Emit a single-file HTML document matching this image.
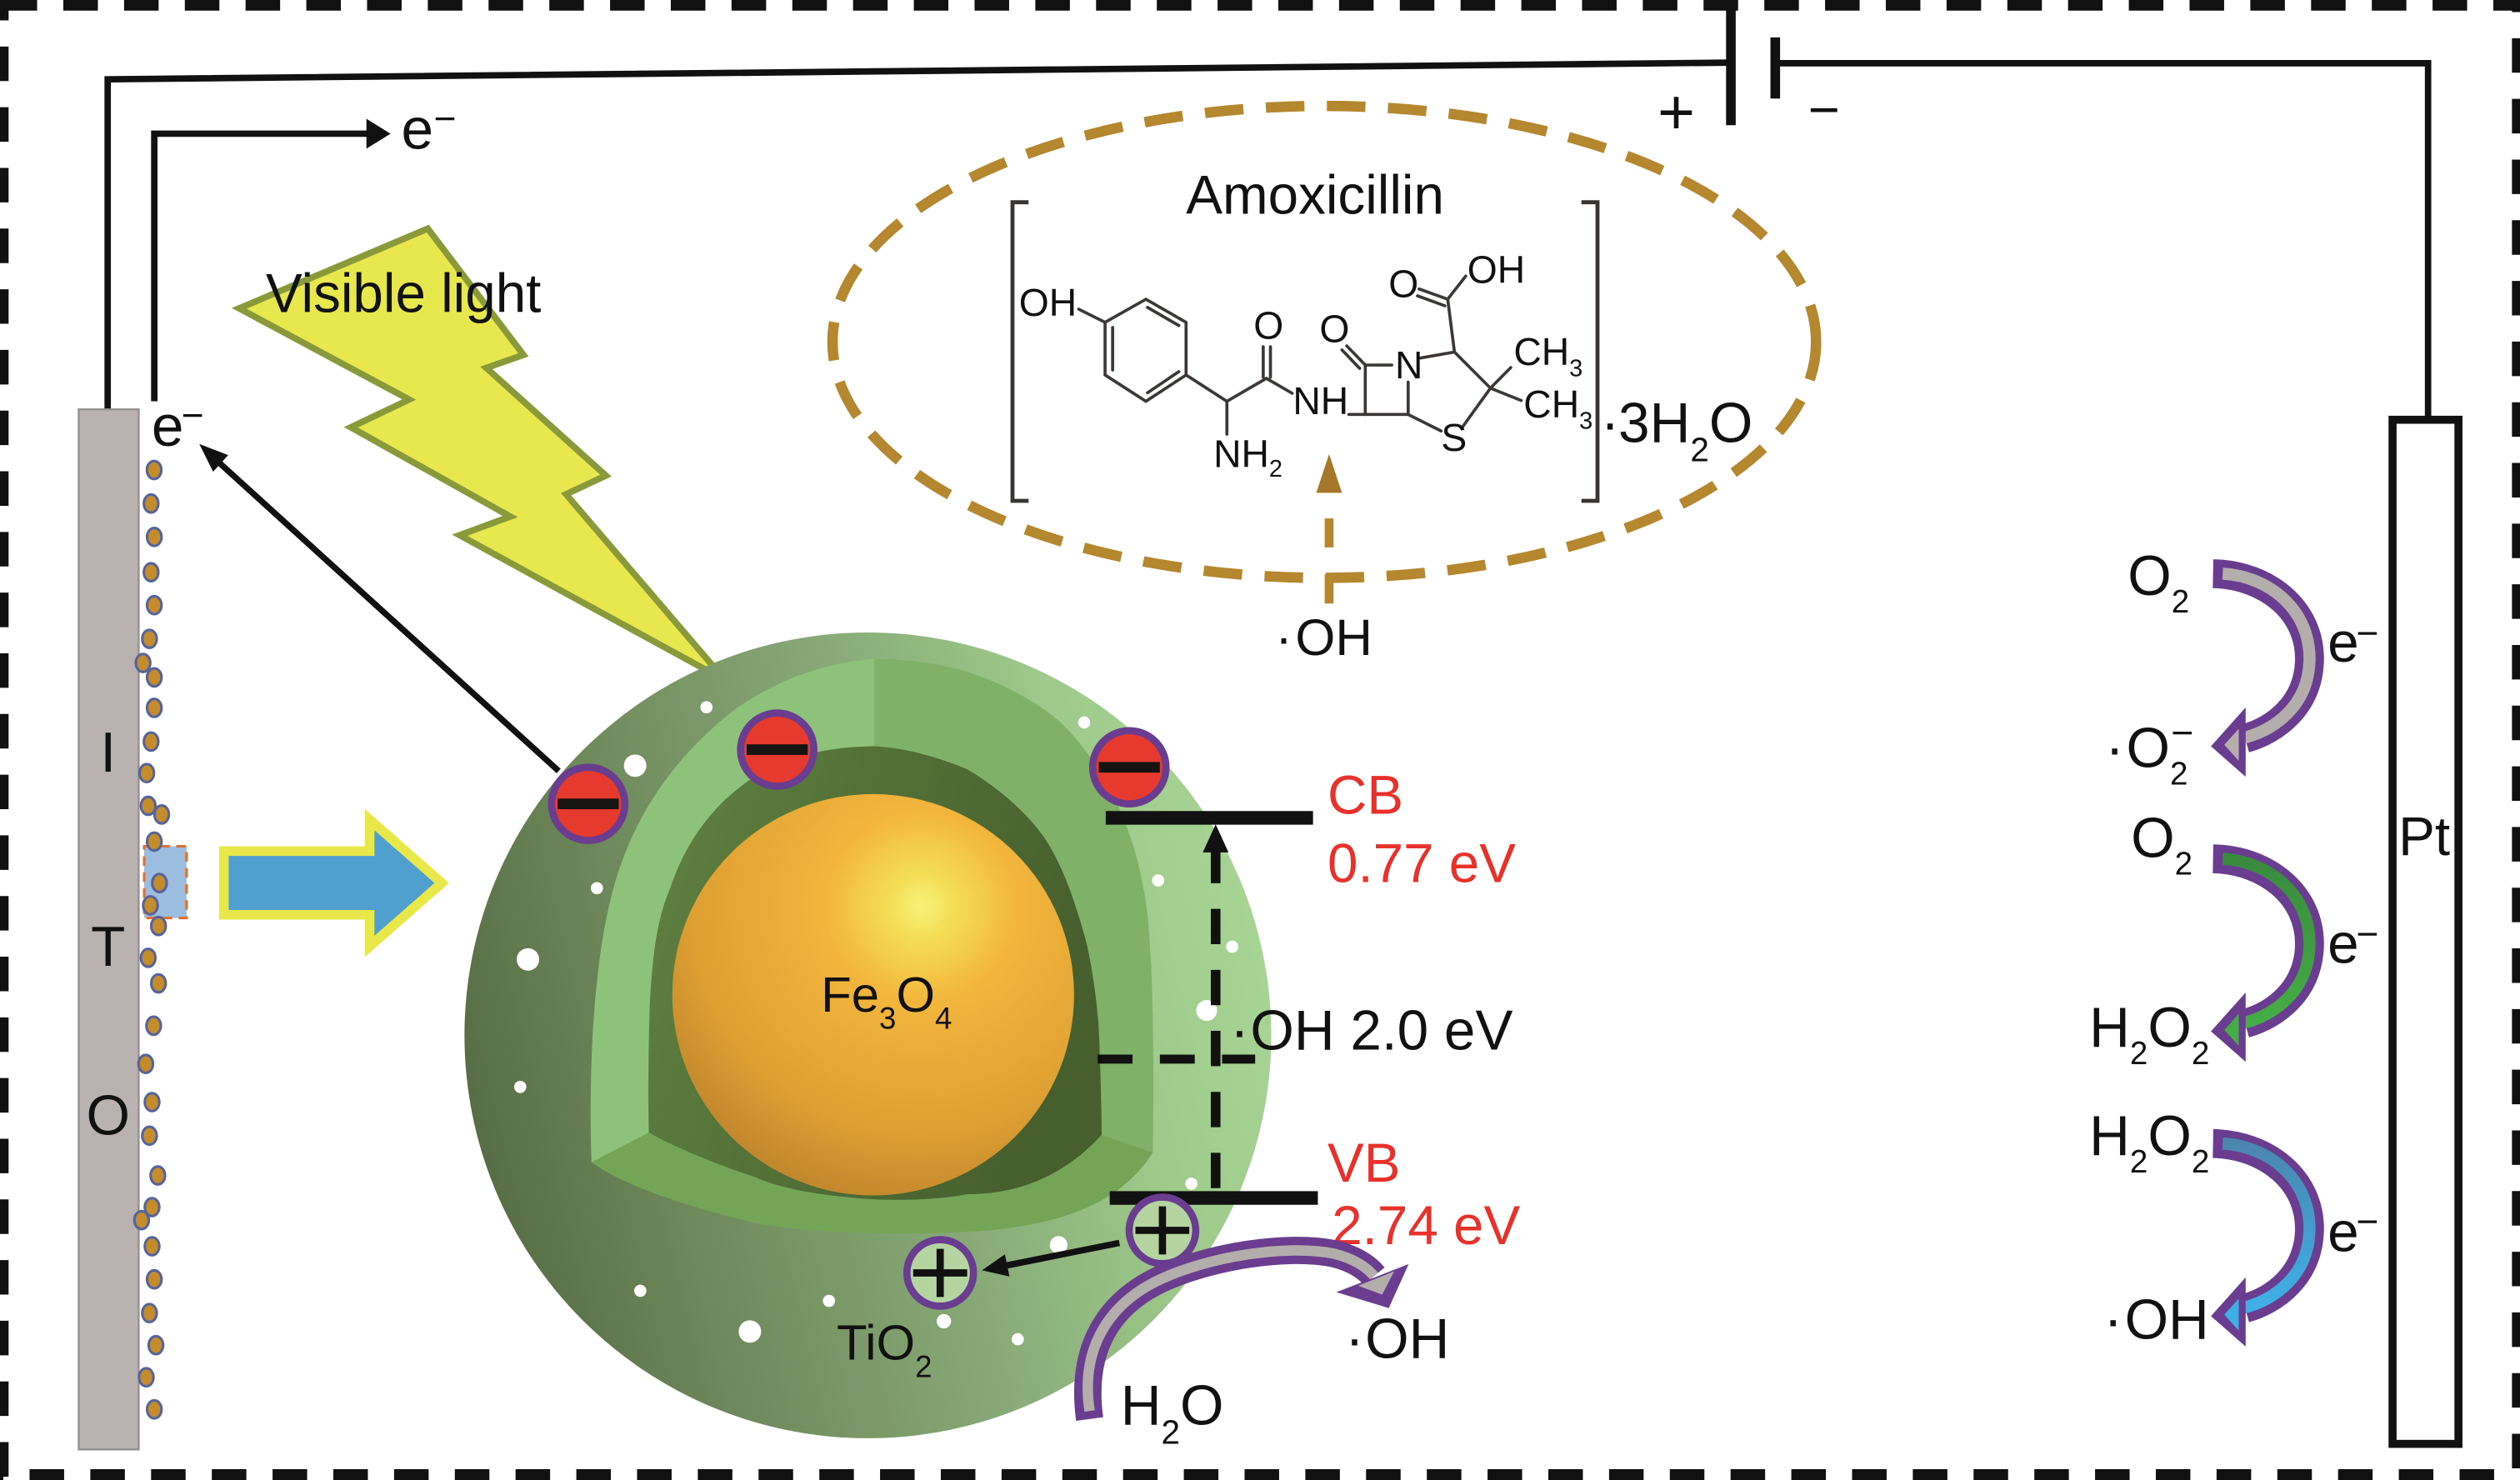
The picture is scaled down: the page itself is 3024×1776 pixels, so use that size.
<!DOCTYPE html>
<html><head><meta charset="utf-8"><style>
html,body{margin:0;padding:0;background:#fff;}
svg{display:block;}
text{font-family:"Liberation Sans",Arial,sans-serif;fill:#111;}
</style></head><body>
<svg width="3024" height="1776" viewBox="0 0 1568 922" preserveAspectRatio="none" xmlns="http://www.w3.org/2000/svg">
<defs>
<linearGradient id="shell" gradientUnits="userSpaceOnUse" x1="290" y1="700" x2="790" y2="580">
<stop offset="0" stop-color="#566c45"/><stop offset="0.25" stop-color="#6f8a5c"/><stop offset="0.55" stop-color="#87a977"/><stop offset="0.8" stop-color="#9dc98a"/><stop offset="1" stop-color="#a8d596"/>
</linearGradient>
<radialGradient id="core" cx="0.62" cy="0.28" r="0.8">
<stop offset="0" stop-color="#f6f27a"/><stop offset="0.1" stop-color="#f4de56"/><stop offset="0.3" stop-color="#f2b53c"/><stop offset="0.7" stop-color="#dfa033"/><stop offset="1" stop-color="#b9802a"/>
</radialGradient>
<linearGradient id="dark" x1="0" y1="0" x2="1" y2="0.3">
<stop offset="0" stop-color="#5f8241"/><stop offset="1" stop-color="#475f2d"/>
</linearGradient>
<linearGradient id="grn" x1="0" y1="0" x2="0" y2="1"><stop offset="0" stop-color="#3a8a3e"/><stop offset="1" stop-color="#45ad45"/></linearGradient>
<linearGradient id="blu" x1="0" y1="0" x2="0" y2="1"><stop offset="0" stop-color="#4a86b0"/><stop offset="1" stop-color="#3fb0e6"/></linearGradient>
</defs>

<!-- dashed border -->
<g stroke="#111" fill="none">
<line x1="1.6" y1="3.3" x2="1568" y2="3.3" stroke-width="6.6" stroke-dasharray="21.5 16.3"/>
<line x1="2.6" y1="-8.8" x2="2.6" y2="922" stroke-width="5.5" stroke-dasharray="21.5 16.3"/>
<line x1="1565.5" y1="-14" x2="1565.5" y2="922" stroke-width="5" stroke-dasharray="21.5 16.3"/>
<line x1="-19.4" y1="919" x2="1568" y2="919" stroke-width="7.5" stroke-dasharray="21.5 16.3"/>
</g>

<!-- wires & battery -->
<g stroke="#111" fill="none" stroke-width="4">
<path d="M67,256 L67,49.4 L1077,39"/>
<path d="M1107,39.4 L1510.8,39.4 L1510.8,260"/>
<path d="M96,250 L96,83.3 L231,83.3"/>
</g>
<polygon points="228,74 243,83.3 228,92.6" fill="#111"/>
<line x1="1077" y1="5" x2="1077" y2="78" stroke="#111" stroke-width="6"/>
<line x1="1104.6" y1="23.3" x2="1104.6" y2="61.4" stroke="#111" stroke-width="6"/>
<text x="1043" y="83.5" font-size="40" text-anchor="middle">+</text>
<text x="1125" y="80" font-size="34">−</text>

<!-- Pt electrode -->
<rect x="1488.7" y="261.5" width="41" height="638" fill="#fff" stroke="#111" stroke-width="5"/>
<text x="1492.4" y="532.6" font-size="34">Pt</text>

<!-- ITO -->
<rect x="49" y="255" width="37.3" height="648" fill="#b9b2b1" stroke="#949090" stroke-width="1.2"/>
<text x="67.3" y="480.6" font-size="35" text-anchor="middle">I</text>
<text x="67.3" y="601.7" font-size="35" text-anchor="middle">T</text>
<text x="67.3" y="706.9" font-size="35" text-anchor="middle">O</text>
<rect x="89.7" y="527.2" width="26.4" height="44.7" fill="#9dbde0" stroke="#e07030" stroke-width="1.6" stroke-dasharray="6 4"/>
<g fill="#c48c2a" stroke="#56649e" stroke-width="1.6">
<ellipse cx="95.9" cy="292.8" rx="4.5" ry="5.6"/><ellipse cx="94" cy="313.7" rx="4.5" ry="5.6"/><ellipse cx="96" cy="334.5" rx="4.5" ry="5.6"/><ellipse cx="94" cy="356.5" rx="4.5" ry="5.6"/><ellipse cx="96" cy="377" rx="4.5" ry="5.6"/><ellipse cx="93" cy="398" rx="4.5" ry="5.6"/><ellipse cx="89" cy="413" rx="4.5" ry="5.6"/><ellipse cx="96" cy="422" rx="4.5" ry="5.6"/><ellipse cx="96" cy="441" rx="4.5" ry="5.6"/><ellipse cx="94" cy="462" rx="4.5" ry="5.6"/><ellipse cx="91.3" cy="481.6" rx="4.5" ry="5.6"/><ellipse cx="92.2" cy="502" rx="4.5" ry="5.6"/><ellipse cx="100.6" cy="507.4" rx="4.5" ry="5.6"/><ellipse cx="96" cy="524.3" rx="4.5" ry="5.6"/><ellipse cx="99.2" cy="550.1" rx="4.5" ry="5.6"/><ellipse cx="93.6" cy="564" rx="4.5" ry="5.6"/><ellipse cx="98.6" cy="576.9" rx="4.5" ry="5.6"/><ellipse cx="92.2" cy="596.7" rx="4.5" ry="5.6"/><ellipse cx="98.6" cy="612.6" rx="4.5" ry="5.6"/><ellipse cx="95.6" cy="639" rx="4.5" ry="5.6"/><ellipse cx="90.7" cy="662.8" rx="4.5" ry="5.6"/><ellipse cx="94.6" cy="686.6" rx="4.5" ry="5.6"/><ellipse cx="93" cy="707.5" rx="4.5" ry="5.6"/><ellipse cx="98.2" cy="732.3" rx="4.5" ry="5.6"/><ellipse cx="94.6" cy="752" rx="4.5" ry="5.6"/><ellipse cx="88.1" cy="760.1" rx="4.5" ry="5.6"/><ellipse cx="94.6" cy="776.4" rx="4.5" ry="5.6"/><ellipse cx="96" cy="797" rx="4.5" ry="5.6"/><ellipse cx="93" cy="818" rx="4.5" ry="5.6"/><ellipse cx="97" cy="838" rx="4.5" ry="5.6"/><ellipse cx="91" cy="858" rx="4.5" ry="5.6"/><ellipse cx="96" cy="878" rx="4.5" ry="5.6"/>
</g>

<!-- e- labels near ITO -->
<text x="249.7" y="92.6" font-size="36">e</text><text x="269.8" y="82.1" font-size="24">−</text>
<text x="94.3" y="277.8" font-size="36">e</text><text x="112.8" y="266.9" font-size="24">−</text>

<!-- blue arrow -->
<polygon points="139.3,530.2 230,530.2 230,510.6 274.9,550.1 230,589.6 230,569.9 139.3,569.9" fill="#4f9fcf" stroke="#e8e84a" stroke-width="6" stroke-linejoin="miter"/>

<!-- lightning -->
<polygon points="148.8,192.1 266.2,142.4 325.7,221.1 302.6,229.2 377,296.3 352.2,307.9 451.3,423.9 286,333.4 317.5,321.8 218.3,266.2 254.6,248.9" fill="#e8e84e" stroke="#8a9a3a" stroke-width="4" stroke-linejoin="miter"/>
<text x="165.4" y="194.5" font-size="34">Visible light</text>

<!-- sphere -->
<circle cx="540" cy="645" r="251" fill="url(#shell)"/>
<path d="M368,724 C366,660 370,600 380,560 C392,510 420,470 460,440 C490,420 520,412 544,410.6 C590,410 630,425 660,450 C690,480 708,520 714,570 C718,610 718,670 717.3,718 Z" fill="#8ec27b"/>
<path d="M544,410.6 C590,410 630,425 660,450 C690,480 708,520 714,570 C718,610 718,670 717.3,718 L685.5,707 C685.5,690 685,670 684.2,654 C683,630 680,605 676.2,588 C670,565 662,540 649.8,521.8 C636,503 620,490 602.2,479.4 C585,471 565,466 544,464.9 Z" fill="#80b168"/>
<path d="M403.7,705.6 C403,670 404,640 404.2,627.6 C406,590 410,570 416.9,553.5 C425,530 435,515 448.7,500.6 C465,485 480,476 496.3,471.5 C512,467 528,465 544,464.9 C565,466 585,472 602.2,479.4 C620,490 638,505 649.8,521.8 C662,540 670,565 676.2,588 C681,610 684,635 684.2,654 C685,675 685.5,695 685.5,707 C660,735 630,744 602.2,744 C580,748 555,748 536,746.7 C505,744 485,740 469.9,733.4 C445,725 420,715 403.7,705.6 Z" fill="url(#dark)"/>
<path d="M368,724 L403.7,705.6 C420,715 445,725 469.9,733.4 C485,740 505,744 536,746.7 C555,748 580,748 602.2,744 C630,744 660,735 685.5,707 L717.3,718 C700,745 670,762 610,767 C560,770 500,768 470,762 C430,752 390,740 368,724 Z" fill="#74a556"/>
<circle cx="543.3" cy="619.7" r="125" fill="url(#core)"/>
<text x="510.9" y="630.2" font-size="31">Fe<tspan font-size="19" dy="10.6">3</tspan><tspan dy="-10.6">O</tspan><tspan font-size="19" dy="10.6">4</tspan></text>

<!-- pores -->
<g fill="#fff">
<circle cx="439.6" cy="440.6" r="3.8"/><circle cx="395.2" cy="477" r="7"/><circle cx="371.4" cy="553.3" r="3.8"/><circle cx="328.5" cy="597.7" r="7"/><circle cx="323.7" cy="677.1" r="3.8"/><circle cx="398.4" cy="804.1" r="3.8"/><circle cx="466.6" cy="829.5" r="7"/><circle cx="515.8" cy="810.4" r="3.8"/><circle cx="587.3" cy="823.1" r="4.5"/><circle cx="633.3" cy="834.3" r="3.8"/><circle cx="658.7" cy="775.5" r="5.5"/><circle cx="674.6" cy="450.1" r="3.8"/><circle cx="720.6" cy="548.5" r="3.8"/><circle cx="766.7" cy="589.8" r="3.8"/><circle cx="750.8" cy="629.5" r="6.5"/><circle cx="741.3" cy="737.4" r="3.8"/>
</g>

<!-- band diagram -->
<line x1="688" y1="509.5" x2="817" y2="509.5" stroke="#111" stroke-width="8.5"/>
<line x1="690.5" y1="746.3" x2="820" y2="746.3" stroke="#111" stroke-width="8.5"/>
<line x1="756.4" y1="740.2" x2="756.4" y2="529" stroke="#111" stroke-width="6" stroke-dasharray="22 16"/>
<polygon points="748.4,531 756.4,513.5 764.4,531" fill="#111"/>
<line x1="683" y1="659.8" x2="781" y2="659.8" stroke="#111" stroke-width="5.6" stroke-dasharray="21.7 17"/>
<g font-size="34">
<text x="826" y="507" style="fill:#e8312a">CB</text>
<text x="826" y="549.6" style="fill:#e8312a">0.77 eV</text>
<text x="826" y="736.2" style="fill:#e8312a">VB</text>
<text x="828.7" y="775" style="fill:#e8312a">2.74 eV</text>
</g>
<text x="765.5" y="653.8" font-size="35">·</text>
<text x="778" y="653.8" font-size="35">OH 2.0 eV</text>

<!-- electrons -->
<g>
<circle cx="366" cy="500.8" r="22.8" fill="#e53a2d" stroke="#6b3d91" stroke-width="4.5"/><rect x="347" y="497.5" width="38" height="6.6" fill="#161412"/>
<circle cx="483.6" cy="467" r="22.8" fill="#e53a2d" stroke="#6b3d91" stroke-width="4.5"/><rect x="464.6" y="463.7" width="38" height="6.6" fill="#161412"/>
<circle cx="702.7" cy="478" r="22.8" fill="#e53a2d" stroke="#6b3d91" stroke-width="4.5"/><rect x="683.7" y="474.7" width="38" height="6.6" fill="#161412"/>
</g>
<line x1="347.6" y1="480.3" x2="135" y2="287" stroke="#111" stroke-width="3.8"/>
<polygon points="124,276.6 142,283.5 132.6,293.9" fill="#111"/>

<!-- H2O arrow -->
<path d="M678,884 C672,840 690,812 722,797 C752,783 800,775 830,781 C842,784 850,789 855,795" fill="none" stroke="#6b3d91" stroke-width="17"/>
<path d="M678,879 C672,840 690,812 722,797 C752,783 800,775 830,781 C842,784 850,789 855,795" fill="none" stroke="#b3aeab" stroke-width="6.5"/>
<polygon points="864.1,814.9 876.5,787.5 831.5,805" fill="#6b3d91"/>
<polygon points="860,806.5 867.5,792 845,801" fill="#b3aeab"/>

<!-- holes -->
<g stroke="#6b3d91" stroke-width="4.5" fill="#b4d59f">
<circle cx="723.3" cy="766.5" r="20.7"/><circle cx="585" cy="793" r="20.7"/>
</g>
<g stroke="#111" stroke-width="4.5">
<line x1="706.5" y1="766.5" x2="740" y2="766.5"/><line x1="723.3" y1="751.5" x2="723.3" y2="781.5"/>
<line x1="568.2" y1="793" x2="601.8" y2="793"/><line x1="585" y1="778" x2="585" y2="808"/>
</g>
<line x1="696.5" y1="774.3" x2="625" y2="788.6" stroke="#111" stroke-width="4"/>
<polygon points="611,791.4 625.3,781.4 628.1,795.2" fill="#111"/>

<text x="520.6" y="847" font-size="31">TiO<tspan font-size="19" dy="11">2</tspan></text>
<text x="837" y="846" font-size="35">·</text>
<text x="849.4" y="846" font-size="35">OH</text>
<text x="697.3" y="887.5" font-size="35">H<tspan font-size="21" dy="12">2</tspan><tspan dy="-12">O</tspan></text>

<!-- Amoxicillin ellipse -->
<ellipse cx="824" cy="213" rx="306" ry="147" fill="none" stroke="#b5872e" stroke-width="6.5" stroke-dasharray="24 14"/>
<line x1="827" y1="376" x2="827" y2="306" stroke="#b5872e" stroke-width="5.5" stroke-dasharray="18 17"/>
<polygon points="819,307 827,282.8 835,307" fill="#a8782a"/>
<text x="793.5" y="408" font-size="32">·</text>
<text x="806" y="408" font-size="32">OH</text>
<text x="738" y="133.2" font-size="34">Amoxicillin</text>

<!-- brackets -->
<g stroke="#3a3535" stroke-width="2.5" fill="none">
<path d="M640,126 L630,126 L630,312 L640,312"/>
<path d="M984,126 L994,126 L994,312 L984,312"/>
</g>
<text x="996" y="275.4" font-size="35">·</text>
<text x="1007" y="275.4" font-size="35">3H<tspan font-size="21" dy="12">2</tspan><tspan dy="-12">O</tspan></text>

<!-- molecule -->
<g stroke="#3d3838" stroke-width="1.9" fill="none" stroke-linecap="round">
<polygon points="713,186.4 738,200.8 738,233.6 713,250 687.6,233.6 687.6,200.8"/>
<line x1="714" y1="191.5" x2="733.5" y2="202.8"/>
<line x1="733.5" y1="231.5" x2="714" y2="244.7"/>
<line x1="692.3" y1="204" x2="692.3" y2="230.5"/>
<line x1="671.2" y1="192.6" x2="687.6" y2="200.8"/>
<line x1="738" y1="233.6" x2="763.4" y2="250"/>
<line x1="763.4" y1="250" x2="763.4" y2="270.5"/>
<line x1="763.4" y1="250" x2="788" y2="235.7"/>
<line x1="786" y1="235" x2="786" y2="216"/>
<line x1="790.5" y1="235" x2="790.5" y2="216"/>
<line x1="788" y1="235.7" x2="804" y2="245"/>
<line x1="839.3" y1="258.2" x2="849.5" y2="258.2"/>
<line x1="849.5" y1="258.2" x2="849.5" y2="227.4"/>
<line x1="849.5" y1="227.4" x2="866" y2="227.4"/>
<line x1="876.2" y1="238" x2="876.2" y2="258.2"/>
<line x1="849.5" y1="258.2" x2="876.2" y2="258.2"/>
<line x1="849.5" y1="227.4" x2="838" y2="215.5"/>
<line x1="846" y1="229.5" x2="835" y2="218"/>
<line x1="884" y1="223" x2="905" y2="219.3"/>
<line x1="905" y1="219.3" x2="900.8" y2="186.4"/>
<line x1="900.8" y1="186.4" x2="883" y2="180"/>
<line x1="899" y1="190.5" x2="882" y2="184.3"/>
<line x1="900.8" y1="186.4" x2="912" y2="172"/>
<line x1="905" y1="219.3" x2="927.4" y2="241.8"/>
<line x1="927.4" y1="241.8" x2="940" y2="229"/>
<line x1="927.4" y1="241.8" x2="946.5" y2="249.5"/>
<line x1="927.4" y1="241.8" x2="910" y2="266"/>
<line x1="896.7" y1="268.5" x2="876.2" y2="258.2"/>
</g>
<g font-size="24">
<text x="634" y="196.7">OH</text>
<text x="780" y="211">O</text>
<text x="804.4" y="258">NH</text>
<text x="755" y="291">NH<tspan font-size="15" dy="6">2</tspan></text>
<text x="821" y="213">O</text>
<text x="868" y="235.7">N</text>
<text x="864" y="185">O</text>
<text x="913" y="176.2">OH</text>
<text x="941.8" y="227.5">CH<tspan font-size="15" dy="7">3</tspan></text>
<text x="948" y="260">CH<tspan font-size="15" dy="7">3</tspan></text>
<text x="896.7" y="280.8">S</text>
</g>

<!-- right side reaction arrows -->
<g>
<path d="M1377,357.4 C1410,358 1438,380 1437,412 C1436,440 1415,455 1397,460" fill="none" stroke="#6b3d91" stroke-width="18"/>
<path d="M1383,357.4 C1412,359 1438,380 1437,412 C1436,440 1415,455 1395,460" fill="none" stroke="#b3aeab" stroke-width="7.5"/>
<polygon points="1375.7,464.9 1397.3,440.7 1397.3,483.9" fill="#6b3d91"/>
<polygon points="1384,464 1393,454 1393,474" fill="#b3aeab"/>

<path d="M1377,535 C1410,535.6 1438,557.6 1437,589.6 C1436,617.6 1415,632.6 1397,637.6" fill="none" stroke="#6b3d91" stroke-width="18"/>
<path d="M1383,535 C1412,536.6 1438,557.6 1437,589.6 C1436,617.6 1415,632.6 1395,637.6" fill="none" stroke="url(#grn)" stroke-width="7.5"/>
<polygon points="1375.7,642.5 1397.3,618.3 1397.3,661.5" fill="#6b3d91"/>
<polygon points="1384,641.6 1393,631.6 1393,651.6" fill="#45ad45"/>

<path d="M1377,712.4 C1410,713 1438,735 1437,767 C1436,795 1415,810 1397,815" fill="none" stroke="#6b3d91" stroke-width="18"/>
<path d="M1383,712.4 C1412,714 1438,735 1437,767 C1436,795 1415,810 1395,815" fill="none" stroke="url(#blu)" stroke-width="7.5"/>
<polygon points="1375.7,819.9 1397.3,795.7 1397.3,838.9" fill="#6b3d91"/>
<polygon points="1384,819 1393,809 1393,829" fill="#3fb0e6"/>
</g>

<g font-size="35">
<text x="1323.9" y="370.7">O<tspan font-size="20" dy="11">2</tspan></text>
<text x="1448.3" y="412.2">e</text>
<text x="1310" y="477.9">·</text>
<text x="1323" y="477.9">O<tspan font-size="20" dy="11">2</tspan></text>
<text x="1325.9" y="533.9">O<tspan font-size="20" dy="11">2</tspan></text>
<text x="1448.3" y="600">e</text>
<text x="1300" y="652">H<tspan font-size="20" dy="11">2</tspan><tspan dy="-11">O</tspan><tspan font-size="20" dy="11">2</tspan></text>
<text x="1300" y="719.5">H<tspan font-size="20" dy="11">2</tspan><tspan dy="-11">O</tspan><tspan font-size="20" dy="11">2</tspan></text>
<text x="1448.3" y="779.5">e</text>
<text x="1309" y="834">·</text>
<text x="1322" y="834">OH</text>
</g>
<g font-size="24">
<text x="1466" y="402.5">−</text>
<text x="1350.8" y="464.6">−</text>
<text x="1466" y="590">−</text>
<text x="1466" y="769">−</text>
</g>
</svg>
</body></html>
